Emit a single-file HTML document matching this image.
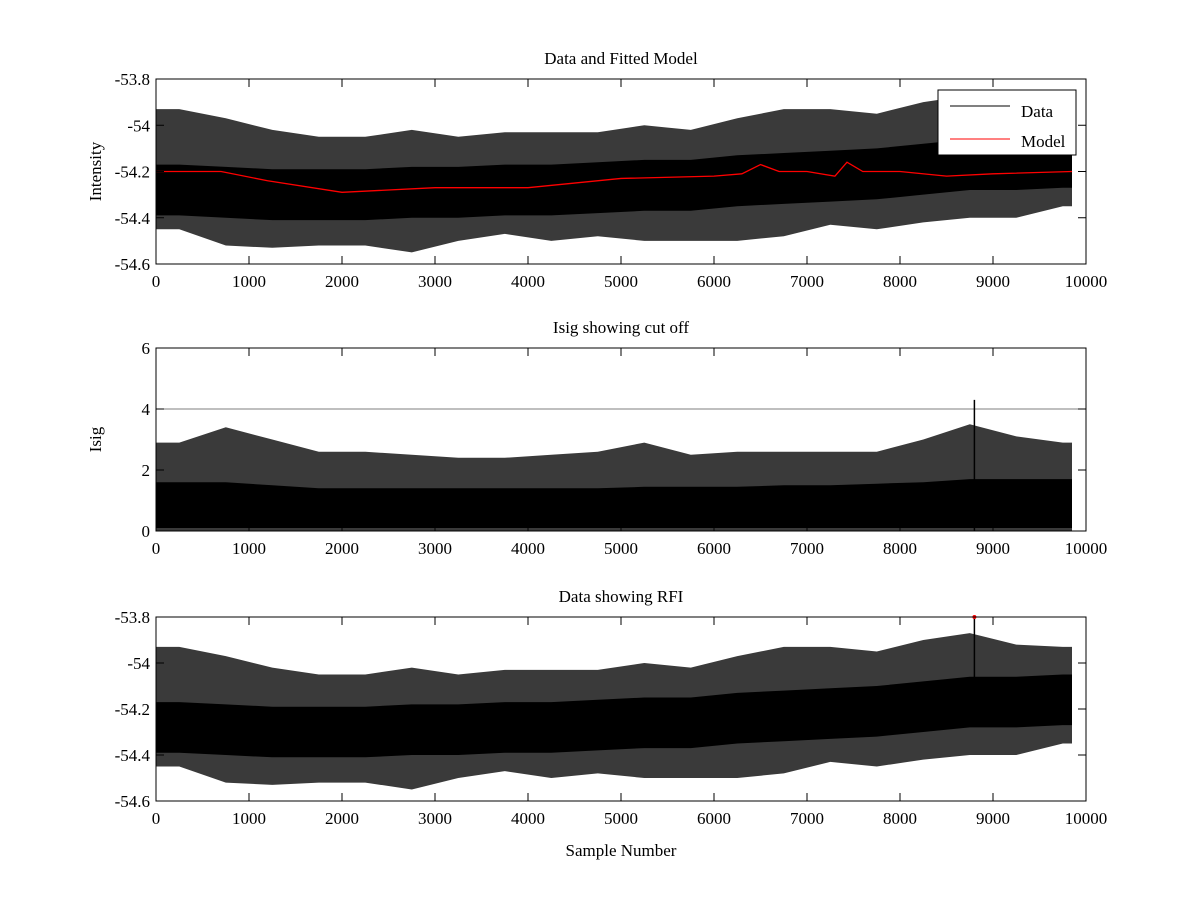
<!DOCTYPE html>
<html><head><meta charset="utf-8"><style>
body{margin:0;background:#fff}
svg text{font-family:"Liberation Serif",serif;fill:#000}
</style></head><body>
<svg id="c" width="1200" height="900" xmlns="http://www.w3.org/2000/svg"></svg>
<script>
const binStarts=[0,500,1000,1500,2000,2500,3000,3500,4000,4500,5000,5500,6000,6500,7000,7500,8000,8500,9000,9500];
const dataHi=[-53.93,-53.97,-54.02,-54.05,-54.05,-54.02,-54.05,-54.03,-54.03,-54.03,-54.0,-54.02,-53.97,-53.93,-53.93,-53.95,-53.9,-53.87,-53.92,-53.93];
const dataLo=[-54.45,-54.52,-54.53,-54.52,-54.52,-54.55,-54.5,-54.47,-54.5,-54.48,-54.5,-54.5,-54.5,-54.48,-54.43,-54.45,-54.42,-54.4,-54.4,-54.35];
const dataMean=[-54.27,-54.28,-54.29,-54.29,-54.29,-54.28,-54.28,-54.27,-54.27,-54.26,-54.25,-54.25,-54.23,-54.22,-54.21,-54.2,-54.18,-54.16,-54.16,-54.15];
const coreHalf=[0.1,0.1,0.1,0.1,0.1,0.1,0.1,0.1,0.1,0.1,0.1,0.1,0.1,0.1,0.1,0.1,0.1,0.1,0.1,0.1];
const modelX=[0,700,1200,2000,3000,4000,4500,5000,6000,6300,6500,6700,7000,7300,7430,7600,8000,8500,9000,9850];
const modelY=[-54.2,-54.2,-54.24,-54.29,-54.27,-54.27,-54.25,-54.23,-54.22,-54.21,-54.17,-54.2,-54.2,-54.22,-54.16,-54.2,-54.2,-54.22,-54.21,-54.2];
const isigHi=[2.9,3.4,3.0,2.6,2.6,2.5,2.4,2.4,2.5,2.6,2.9,2.5,2.6,2.6,2.6,2.6,3.0,3.5,3.1,2.9];
const isigCore=[1.6,1.6,1.5,1.4,1.4,1.4,1.4,1.4,1.4,1.4,1.45,1.45,1.45,1.5,1.5,1.55,1.6,1.7,1.7,1.7];
const rfiX=[8800], rfiY=[-53.8], isigSpikeY=[4.3];
const cutoff=[4];
const xTicks=[0,1000,2000,3000,4000,5000,6000,7000,8000,9000,10000];
const intTicks=[-54.6,-54.4,-54.2,-54,-53.8];
const isigTicks=[0,2,4,6];
const xEnd=9850;

const NS="http://www.w3.org/2000/svg", svg=document.getElementById('c');
function el(t,a,p){const e=document.createElementNS(NS,t);for(const k in a)e.setAttribute(k,a[k]);(p||svg).appendChild(e);return e;}
const X0=156,X1=1086;
const sx=v=>X0+v/10000*(X1-X0);
function panel(name,top,bot,ymin,ymax,yt,title,ylabel){
  const g=el('g',{});
  
  
  const sy=v=>bot-(v-ymin)/(ymax-ymin)*(bot-top);
  return {g,sy,top,bot,yt,title,ylabel};
}
function frame(P){
  const {g,sy,top,bot}=P;
  el('rect',{x:X0,y:top,width:X1-X0,height:bot-top,fill:'none',stroke:'#000','stroke-width':1},g);
  xTicks.forEach(t=>{const x=sx(t);
    el('line',{x1:x,x2:x,y1:bot,y2:bot-8,stroke:'#000'},g);el('line',{x1:x,x2:x,y1:top,y2:top+8,stroke:'#000'},g);
    const tx=el('text',{x:x,y:bot+23,'font-size':17,'text-anchor':'middle'},g);tx.textContent=t;
    });
  P.yt.forEach(t=>{const y=sy(t);
    el('line',{x1:X0,x2:X0+8,y1:y,y2:y,stroke:'#000'},g);el('line',{x1:X1,x2:X1-8,y1:y,y2:y,stroke:'#000'},g);
    const tx=el('text',{x:X0-6,y:y+6,'font-size':17,'text-anchor':'end'},g);tx.textContent=String(t);
    });
  const tt=el('text',{x:(X0+X1)/2,y:top-15,'font-size':17,'text-anchor':'middle'},g);tt.textContent=P.title;
  
  if(P.ylabel){const yl=el('text',{x:0,y:0,'font-size':17,'text-anchor':'middle',transform:`translate(101,${(top+bot)/2}) rotate(-90)`},g);yl.textContent=P.ylabel;
    }
}
function band(g,hiArr,loArr,fill,name){
  const cx=i=>sx(Math.min(binStarts[i]+250,xEnd));
  let up=[[sx(0),hiArr[0]]],dn=[[sx(0),loArr[0]]];
  binStarts.forEach((b,i)=>{up.push([cx(i),hiArr[i]]);dn.push([cx(i),loArr[i]]);});
  const n=binStarts.length-1;
  up.push([sx(xEnd),hiArr[n]]);dn.push([sx(xEnd),loArr[n]]);
  const pts=up.concat(dn.reverse()).map(p=>p[0].toFixed(1)+','+p[1].toFixed(1)).join(' ');
  const p=el('polygon',{points:pts,fill:fill},g);
  
}
function dataPanel(P){
  const {g,sy}=P;
  band(g,dataHi.map(sy),dataLo.map(sy),'#3a3a3a','data-envelope');
  band(g,dataMean.map((m,i)=>sy(m+coreHalf[i])),dataMean.map((m,i)=>sy(m-coreHalf[i]-0.02)),'#000','data-core');
}
const P1=panel('data-and-model-panel',79,264,-54.6,-53.8,intTicks,'Data and Fitted Model','Intensity');
dataPanel(P1);
const mp=modelX.map((x,i)=>sx(x)+','+P1.sy(modelY[i])).join(' ');
const ml=el('polyline',{points:mp,fill:'none',stroke:'#f00','stroke-width':1.3},P1.g);

frame(P1);
const lg=el('g',{},P1.g);

el('rect',{x:938,y:90,width:138,height:65,fill:'#fff',stroke:'#000'},lg);
el('line',{x1:950,x2:1010,y1:106,y2:106,stroke:'#000'},lg);
el('line',{x1:950,x2:1010,y1:139,y2:139,stroke:'#f00'},lg);
const t1=el('text',{x:1021,y:117,'font-size':17},lg);t1.textContent='Data';
const t2=el('text',{x:1021,y:147,'font-size':17},lg);t2.textContent='Model';
const P2=panel('isig-panel',348,531,0,6,isigTicks,'Isig showing cut off','Isig');
band(P2.g,isigHi.map(P2.sy),binStarts.map(()=>P2.sy(0)),'#3a3a3a','isig-envelope');
band(P2.g,isigCore.map(P2.sy),binStarts.map(()=>P2.sy(0.1)),'#000','isig-core');
rfiX.forEach((x,i)=>{const l=el('line',{x1:sx(x),x2:sx(x),y1:P2.sy(0),y2:P2.sy(isigSpikeY[i]),stroke:'#000','stroke-width':1.5},P2.g);
  });
cutoff.forEach(c=>{const l=el('line',{x1:X0,x2:X1,y1:P2.sy(c),y2:P2.sy(c),stroke:'#000','stroke-width':0.6},P2.g);
  });
frame(P2);
const P3=panel('rfi-panel',617,801,-54.6,-53.8,intTicks,'Data showing RFI','');
dataPanel(P3);
rfiX.forEach((x,i)=>{const l=el('line',{x1:sx(x),x2:sx(x),y1:P3.sy(-54.15),y2:P3.sy(rfiY[i]),stroke:'#000','stroke-width':1.5},P3.g);
  
  const d=el('circle',{cx:sx(x),cy:P3.sy(rfiY[i]),r:2,fill:'#f00'},P3.g);
  });
frame(P3);
const xl=el('text',{x:(X0+X1)/2,y:856,'font-size':17,'text-anchor':'middle'});xl.textContent='Sample Number';

</script>
</body></html>
